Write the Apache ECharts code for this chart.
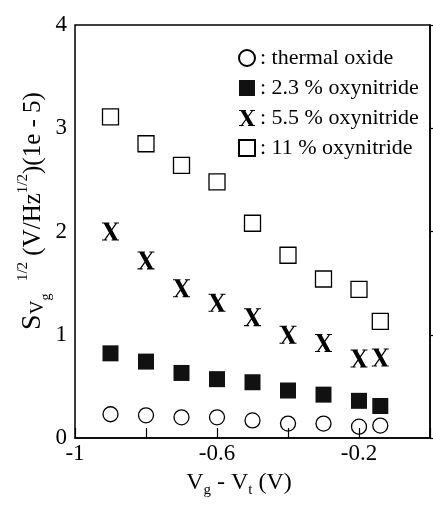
<!DOCTYPE html>
<html>
<head>
<meta charset="utf-8">
<script src="https://cdn.jsdelivr.net/npm/echarts@6/dist/echarts.min.js"></script>
<style>
  html, body { margin: 0; padding: 0; background: #fff; }
  #chart { width: 433px; height: 507px; }
</style>
</head>
<body>
<div id="chart"></div>
<script>
const xVals = [-0.9, -0.8, -0.7, -0.6, -0.5, -0.4, -0.3, -0.2, -0.14];
const thermal = [0.23, 0.22, 0.20, 0.20, 0.17, 0.14, 0.14, 0.11, 0.12];
const oxy23 = [0.82, 0.74, 0.63, 0.57, 0.54, 0.46, 0.42, 0.36, 0.31];
const oxy55 = [2.00, 1.72, 1.45, 1.31, 1.17, 1.00, 0.92, 0.77, 0.78];
const oxy11 = [3.11, 2.85, 2.64, 2.48, 2.08, 1.77, 1.54, 1.44, 1.13];
const seriesNames = ['thermal oxide', '2.3 % oxynitride', '5.5 % oxynitride', '11 % oxynitride'];
const xTickValues = [-1, -0.6, -0.2];
const xTickLabels = ['-1', '-0.6', '-0.2'];
const yTickLabels = ['0', '1', '2', '3', '4'];

const FONT = 'Liberation Serif';
const pair = arr => xVals.map((x, i) => [x, arr[i]]);
const X_PATH = 'path://M8,0 L36,0 L94,100 L66,100 Z M83,0 L92,0 L18,100 L9,100 Z M0,0 L44,0 L44,6 L0,6 Z M70,0 L100,0 L100,6 L70,6 Z M0,94 L30,94 L30,100 L0,100 Z M56,94 L100,94 L100,100 L56,100 Z';

const chart = echarts.init(document.getElementById('chart'), null, { renderer: 'canvas' });
chart.setOption({
  animation: false,
  backgroundColor: '#fff',
  grid: { left: 75, right: 1, top: 25, bottom: 69, show: true, borderColor: '#000', borderWidth: 1.5, backgroundColor: 'transparent' },
  xAxis: {
    type: 'value', min: -1, max: 0, interval: 0.2,
    axisLine: { show: true, lineStyle: { color: '#000', width: 1.5 } },
    axisTick: { show: true, inside: true, length: 10, lineStyle: { color: '#000', width: 1.2 } },
    splitLine: { show: false },
    axisLabel: {
      color: '#000', fontFamily: FONT, fontSize: 23, margin: 4,
      formatter: v => {
        const i = xTickValues.findIndex(t => Math.abs(t - v) < 1e-9);
        return i >= 0 ? xTickLabels[i] : '';
      }
    }
  },
  yAxis: {
    type: 'value', min: 0, max: 4, interval: 1,
    axisLine: { show: true, lineStyle: { color: '#000', width: 1.5 } },
    axisTick: { show: true, inside: true, length: 10, lineStyle: { color: '#000', width: 1.2 } },
    splitLine: { show: false },
    axisLabel: {
      color: '#000', fontFamily: FONT, fontSize: 23, margin: 8,
      formatter: v => yTickLabels[Math.round(v)]
    }
  },
  legend: {
    orient: 'vertical', left: 233, top: 42,
    itemWidth: 16, itemHeight: 16, itemGap: 8,
    textStyle: { color: '#000', fontFamily: FONT, fontSize: 22 },
    formatter: n => ': ' + n,
    data: seriesNames
  },
  graphic: [
    {
      type: 'text', x: 33, y: 211, rotation: Math.PI / 2,
      style: {
        text: '{s|S}{v|V}{g|g}{n|  }{sup|1/2}{n| (V/Hz}{sup|1/2}{n|)(1e - 5)}',
        align: 'center', verticalAlign: 'middle', fill: '#000',
        rich: {
          s: { fontFamily: FONT, fontSize: 28, lineHeight: 40, verticalAlign: 'middle', fill: '#000' },
          n: { fontFamily: FONT, fontSize: 25, lineHeight: 40, verticalAlign: 'middle', fill: '#000' },
          v: { fontFamily: FONT, fontSize: 19, lineHeight: 19, verticalAlign: 'bottom', padding: [0, 0, 5, 0], fill: '#000' },
          g: { fontFamily: FONT, fontSize: 14, lineHeight: 14, verticalAlign: 'bottom', padding: [0, 0, 0, 0], fill: '#000' },
          sup: { fontFamily: FONT, fontSize: 15, lineHeight: 15, verticalAlign: 'top', padding: [3, 0, 0, 0], fill: '#000' }
        }
      }
    },
    {
      type: 'text', x: 239, y: 483,
      style: {
        text: '{m|V}{sub|g}{m| - V}{sub|t}{m| (V)}',
        align: 'center', verticalAlign: 'middle', fill: '#000',
        rich: {
          m: { fontFamily: FONT, fontSize: 24, lineHeight: 30, verticalAlign: 'middle', fill: '#000' },
          sub: { fontFamily: FONT, fontSize: 15, lineHeight: 15, verticalAlign: 'bottom', fill: '#000' }
        }
      }
    }
  ],
  series: [
    {
      name: seriesNames[0], type: 'scatter', data: pair(thermal),
      symbol: 'circle', symbolSize: 15,
      itemStyle: { color: 'rgba(255,255,255,0)', borderColor: '#000', borderWidth: 1.3, opacity: 1 }
    },
    {
      name: seriesNames[1], type: 'scatter', data: pair(oxy23),
      symbol: 'rect', symbolSize: 16,
      itemStyle: { color: '#111', borderColor: '#111', borderWidth: 0, opacity: 1 }
    },
    {
      name: seriesNames[2], type: 'scatter', data: pair(oxy55),
      symbol: X_PATH, symbolSize: [17, 18],
      itemStyle: { color: '#000', opacity: 1 }
    },
    {
      name: seriesNames[3], type: 'scatter', data: pair(oxy11),
      symbol: 'rect', symbolSize: 16,
      itemStyle: { color: 'rgba(255,255,255,0)', borderColor: '#000', borderWidth: 1.3, opacity: 1 }
    }
  ]
});
</script>
</body>
</html>
